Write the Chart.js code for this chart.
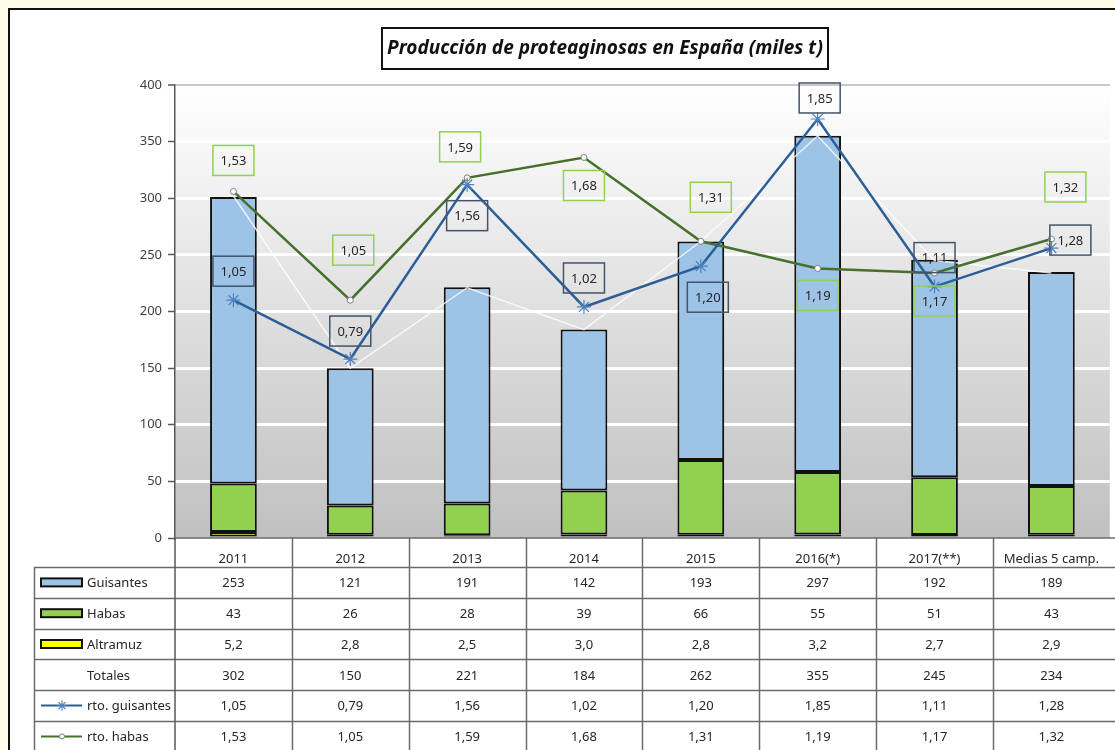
<!DOCTYPE html>
<html>
<head>
<meta charset="utf-8">
<script src="https://cdn.jsdelivr.net/npm/chart.js@4.4.1/dist/chart.umd.min.js"></script>
<style>
  html, body { margin: 0; padding: 0; overflow: hidden; background: #fffce8; }
  #chart { position: absolute; left: 0; top: 0; }
</style>
</head>
<body>
<canvas id="chart" width="1118" height="750"></canvas>
<script>
// Data
const campaigns = ['2011', '2012', '2013', '2014', '2015', '2016(*)', '2017(**)', 'Medias 5 camp.'];
const guisantes = [253, 121, 191, 142, 193, 297, 192, 189];
const habas = [43, 26, 28, 39, 66, 55, 51, 43];
const altramuz = [5.2, 2.8, 2.5, 3.0, 2.8, 3.2, 2.7, 2.9];
const totales = [302, 150, 221, 184, 262, 355, 245, 234];
const rtoGuisantes = [1.05, 0.79, 1.56, 1.02, 1.20, 1.85, 1.11, 1.28];
const rtoHabas = [1.53, 1.05, 1.59, 1.68, 1.31, 1.19, 1.17, 1.32];
const yTicks = [0, 50, 100, 150, 200, 250, 300, 350, 400];

const TITLE = 'Producción de proteaginosas en España (miles t)';
const FONT = '"Noto Sans", "Open Sans", sans-serif';
const TXT = '#262626';

// label box offsets from their point (px), like Excel placed them
const gLabelDx = [0, 0, 0, 0, 7, 2, 0, 19];
const gLabelDy = [-29, -28, 31, -29, 31, -21, -29, -8];
const hLabelDx = [0, 3, -7, 0, 10, 0, 0, 14];
const hLabelDy = [-31, -50, -31, 28, -44, 27, 28, -52];

const fmt = (v, d) => v.toFixed(d).replace('.', ',');

const COLORS = {
    guis: '#9dc3e6',
    habas: '#92d050',
    altr: '#ffff00',
    rtoG: '#2c5f96',
    rtoGPoint: '#4f81bd',
    rtoH: '#46702c',
    gBox: '#44546a',
    hBox: '#92d050'
};

// table rows under the chart
const tableRows = [
    { name: 'Guisantes', vals: guisantes, dec: 0, kind: 'bar', color: COLORS.guis },
    { name: 'Habas', vals: habas, dec: 0, kind: 'bar', color: COLORS.habas },
    { name: 'Altramuz', vals: altramuz, dec: 1, kind: 'bar', color: COLORS.altr },
    { name: 'Totales', vals: totales, dec: 0, kind: 'none' },
    { name: 'rto. guisantes', vals: rtoGuisantes, dec: 2, kind: 'lineG' },
    { name: 'rto. habas', vals: rtoHabas, dec: 2, kind: 'lineH' }
];

const frame = {
    id: 'frame',
    beforeDraw(chart) {
        const { ctx, chartArea: a, width, height } = chart;
        ctx.save();
        ctx.fillStyle = '#fffce8';
        ctx.fillRect(0, 0, width, height);
        ctx.fillStyle = '#ffffff';
        ctx.fillRect(9, 9, width, height);
        ctx.strokeStyle = '#111';
        ctx.lineWidth = 2;
        ctx.strokeRect(9, 9, width + 20, height + 20);
        // plot background gradient
        const g = ctx.createLinearGradient(0, a.top, 0, a.bottom);
        g.addColorStop(0, '#ffffff');
        g.addColorStop(1, '#c0c0c0');
        ctx.fillStyle = g;
        ctx.fillRect(a.left, a.top, a.right - a.left, a.bottom - a.top);
        ctx.restore();
    },
    afterDatasetsDraw(chart) {
        const { ctx } = chart;
        const drawBoxes = (idx, vals, dx, dy, border) => {
            const meta = chart.getDatasetMeta(idx);
            meta.data.forEach((pt, i) => {
                const cx = pt.x + dx[i], cy = pt.y + dy[i];
                const w = 41, h = 30;
                ctx.strokeStyle = border;
                ctx.lineWidth = 1.5;
                ctx.strokeRect(cx - w / 2, cy - h / 2, w, h);
                ctx.fillStyle = TXT;
                ctx.font = '13px ' + FONT;
                ctx.textAlign = 'center';
                ctx.textBaseline = 'middle';
                ctx.fillText(fmt(vals[i], 2), cx, cy + 1);
            });
        };
        ctx.save();
        drawBoxes(5, rtoHabas, hLabelDx, hLabelDy, COLORS.hBox);
        drawBoxes(4, rtoGuisantes, gLabelDx, gLabelDy, COLORS.gBox);
        ctx.restore();
    },
    afterDraw(chart) {
        const { ctx, chartArea: a, width } = chart;
        const n = campaigns.length;
        const colW = (a.right - a.left) / n;
        const rowTop = 567, rowH = 30.8, tableLeft = 34;
        const bottom = rowTop + rowH * tableRows.length;
        ctx.save();

        // table grid
        ctx.strokeStyle = '#6b6b6b';
        ctx.lineWidth = 1.5;
        ctx.beginPath();
        ctx.moveTo(a.left, a.bottom); ctx.lineTo(width, a.bottom);
        for (let r = 0; r <= tableRows.length; r++) {
            const y = Math.round(rowTop + r * rowH) + 0.5;
            ctx.moveTo(tableLeft, y); ctx.lineTo(width, y);
        }
        ctx.moveTo(tableLeft + 0.5, rowTop); ctx.lineTo(tableLeft + 0.5, bottom);
        for (let i = 1; i < n; i++) {
            const x = Math.round(a.left + i * colW) + 0.5;
            ctx.moveTo(x, a.bottom); ctx.lineTo(x, bottom);
        }
        ctx.stroke();
        ctx.strokeStyle = '#595959';
        ctx.beginPath();
        ctx.moveTo(a.left, a.bottom); ctx.lineTo(a.left, bottom);
        ctx.stroke();

        // table text + legend keys
        ctx.font = '13px ' + FONT;
        ctx.textBaseline = 'middle';
        tableRows.forEach((row, r) => {
            const cy = rowTop + r * rowH + rowH / 2;
            if (row.kind === 'bar') {
                ctx.fillStyle = row.color;
                ctx.strokeStyle = '#111';
                ctx.lineWidth = 2;
                ctx.fillRect(41, cy - 4, 41, 8);
                ctx.strokeRect(41, cy - 4, 41, 8);
            } else if (row.kind === 'lineG') {
                ctx.strokeStyle = COLORS.rtoG;
                ctx.lineWidth = 2;
                ctx.beginPath(); ctx.moveTo(41, cy); ctx.lineTo(82, cy); ctx.stroke();
                ctx.strokeStyle = COLORS.rtoGPoint;
                ctx.lineWidth = 1.2;
                ctx.beginPath();
                for (let k = 0; k < 4; k++) {
                    const ang = k * Math.PI / 4;
                    ctx.moveTo(62 - 5 * Math.cos(ang), cy - 5 * Math.sin(ang));
                    ctx.lineTo(62 + 5 * Math.cos(ang), cy + 5 * Math.sin(ang));
                }
                ctx.stroke();
            } else if (row.kind === 'lineH') {
                ctx.strokeStyle = COLORS.rtoH;
                ctx.lineWidth = 2;
                ctx.beginPath(); ctx.moveTo(41, cy); ctx.lineTo(82, cy); ctx.stroke();
                ctx.fillStyle = '#fff';
                ctx.strokeStyle = '#7f7f7f';
                ctx.lineWidth = 1;
                ctx.beginPath(); ctx.arc(62, cy, 2.5, 0, Math.PI * 2); ctx.fill(); ctx.stroke();
            }
            ctx.fillStyle = TXT;
            ctx.textAlign = 'left';
            ctx.fillText(row.name, 87, cy + 1);
            ctx.textAlign = 'center';
            row.vals.forEach((v, i) => {
                ctx.fillText(fmt(v, row.dec), a.left + (i + 0.5) * colW, cy + 1);
            });
        });

        // title box
        ctx.fillStyle = '#fff';
        ctx.fillRect(382, 28, 446, 41);
        ctx.strokeStyle = '#111';
        ctx.lineWidth = 2;
        ctx.strokeRect(382, 28, 446, 41);
        ctx.fillStyle = '#111';
        ctx.font = 'italic bold 19px ' + FONT;
        ctx.textAlign = 'center';
        ctx.fillText(TITLE, 605, 49);
        ctx.restore();
    }
};

const ctx = document.getElementById('chart').getContext('2d');
new Chart(ctx, {
    type: 'bar',
    data: {
        labels: campaigns,
        datasets: [
            { label: 'Altramuz', data: altramuz, backgroundColor: COLORS.altr, order: 3, stack: 'prod' },
            { label: 'Habas', data: habas, backgroundColor: COLORS.habas, order: 3, stack: 'prod' },
            { label: 'Guisantes', data: guisantes, backgroundColor: COLORS.guis, order: 3, stack: 'prod' },
            {
                type: 'line', label: 'Totales', data: totales, yAxisID: 'yTot',
                borderColor: 'rgba(255,255,255,0.8)', borderWidth: 1.5,
                pointRadius: 0, order: 2
            },
            {
                type: 'line', label: 'rto. guisantes', data: rtoGuisantes, yAxisID: 'y2',
                borderColor: COLORS.rtoG, borderWidth: 2.5,
                pointStyle: 'star', pointRadius: 7, pointBorderColor: COLORS.rtoGPoint,
                pointBorderWidth: 1.2, order: 0
            },
            {
                type: 'line', label: 'rto. habas', data: rtoHabas, yAxisID: 'y2',
                borderColor: COLORS.rtoH, borderWidth: 2.5, tension: 0,
                pointStyle: 'circle', pointRadius: 3, pointBackgroundColor: '#fff',
                pointBorderColor: '#7f7f7f', pointBorderWidth: 1, order: 1
            }
        ].map(d => d.type ? d : Object.assign(d, {
            borderColor: '#111', borderWidth: 2, borderSkipped: false,
            barPercentage: 0.4, categoryPercentage: 1
        }))
    },
    options: {
        responsive: false,
        animation: false,
        events: [],
        layout: { padding: { left: 100, top: 85, right: 0, bottom: 183 } },
        plugins: { legend: { display: false }, tooltip: { enabled: false } },
        scales: {
            x: {
                stacked: true,
                grid: { display: false },
                border: { display: false },
                ticks: { color: TXT, font: { family: FONT, size: 13 }, padding: 5, maxRotation: 0 },
                afterFit: s => { s.height = 29; }
            },
            y: {
                stacked: true,
                min: 0, max: 400,
                afterBuildTicks: s => { s.ticks = yTicks.map(v => ({ value: v })); },
                ticks: { color: '#404040', font: { family: FONT, size: 13 }, padding: 6 },
                grid: {
                    color: c => c.tick.value === 400 ? '#c8c8c8' : (c.tick.value === 0 ? 'rgba(0,0,0,0)' : '#ffffff'),
                    lineWidth: c => c.tick.value === 400 ? 2 : 3,
                    tickColor: '#595959', tickLength: 7, tickWidth: 1.5
                },
                border: { color: '#595959', width: 1.5 },
                afterFit: s => { s.width = 75; }
            },
            yTot: { display: false, min: 0, max: 400 },
            y2: { display: false, min: 0, max: 2 }
        }
    },
    plugins: [frame]
});
</script>
</body>
</html>
